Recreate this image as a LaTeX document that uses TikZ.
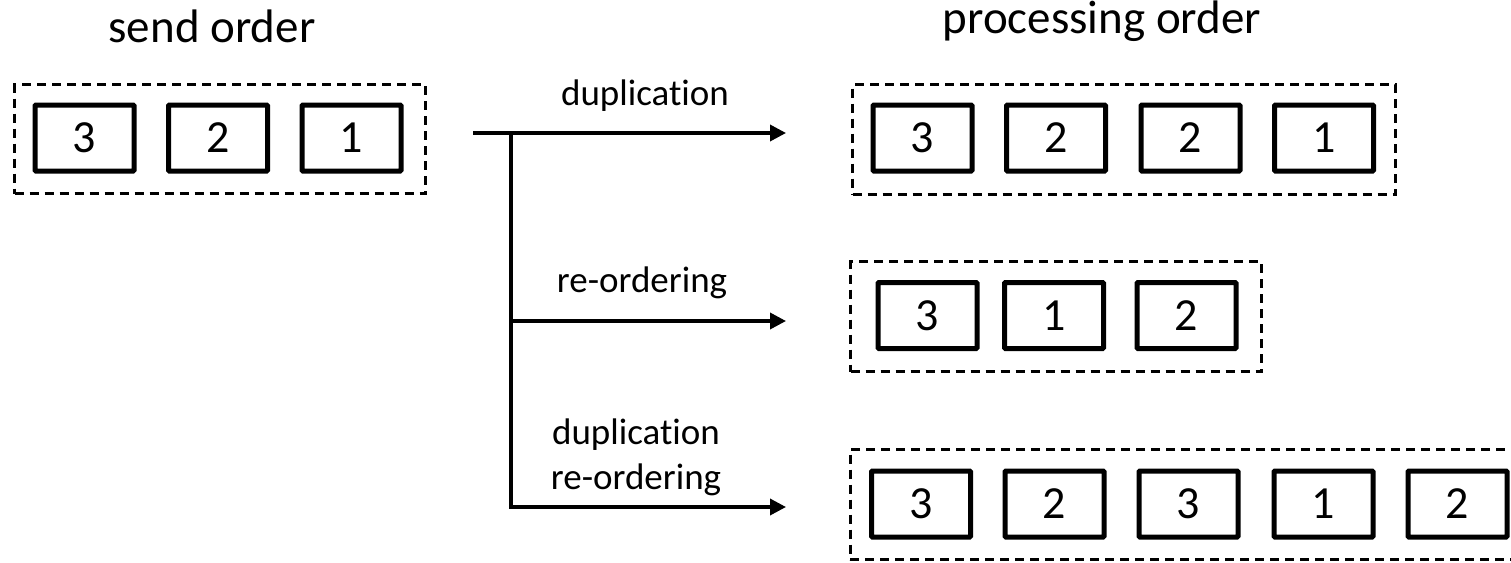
\documentclass[tikz,border=0pt]{standalone}
\usepackage{fontspec}
\setmainfont[Ligatures=NoCommon]{Carlito}
\usetikzlibrary{arrows.meta}
\tikzset{
  pkt/.style={draw, line width=5pt, rounded corners=1pt, minimum width=99pt, minimum height=66pt, inner sep=0pt, font=\fontsize{46}{52}\selectfont},
  grp/.style={draw, line width=3pt, dash pattern=on 9pt off 6pt, inner sep=0pt},
  title/.style={anchor=base, font=\fontsize{47}{56}\selectfont},
  lbl/.style={anchor=base, font=\fontsize{37}{45}\selectfont},
  lbltwo/.style={font=\fontsize{37}{45}\selectfont, align=center},
  flow/.style={line width=3.5pt},
  flowarr/.style={line width=3.5pt, -{Triangle[length=16pt,width=16pt]}}
}

\begin{document}
\begin{tikzpicture}[x=1pt, y=-1pt]
		%%%%% START %%%%%
		\useasboundingbox (0,0) rectangle (1511,562);
		
		% titles
		\node[title] (sendtitle) at (212,42) {send order};
		\node[title] (proctitle) at (1102,33) {processing order};
		
		% send order
		\node[grp, minimum width=411pt, minimum height=109pt] (sendgrp) at (220,139) {};
		\node[pkt] (s3) at (84.5,138) {3};
		\node[pkt] (s2) at (218,138) {2};
		\node[pkt] (s1) at (351.5,138) {1};
		
		% duplication
		\node[grp, minimum width=543pt, minimum height=110pt] (dupgrp) at (1124,139.5) {};
		\node[pkt] (d3) at (922.5,138) {3};
		\node[pkt] (d2a) at (1056,138) {2};
		\node[pkt] (d2b) at (1190.5,138) {2};
		\node[pkt] (d1) at (1324,138) {1};
		
		% re-ordering
		\node[grp, minimum width=411pt, minimum height=110pt] (reogrp) at (1056,316.5) {};
		\node[pkt] (r3) at (927.5,315.5) {3};
		\node[pkt] (r1) at (1054,315.5) {1};
		\node[pkt] (r2) at (1186.5,315.5) {2};
		
		% duplication + re-ordering
		\node[grp, minimum width=670pt, minimum height=110pt] (bothgrp) at (1185,504.5) {};
		\node[pkt] (b3a) at (921,504) {3};
		\node[pkt] (b2a) at (1054.5,504) {2};
		\node[pkt] (b3b) at (1188.5,504) {3};
		\node[pkt] (b1) at (1323.5,504) {1};
		\node[pkt] (b2b) at (1457.5,504) {2};
		
		% arrows
		\coordinate (stub) at (473,133);
		\coordinate (fork) at (511,133);
		\coordinate (endA) at (786,133);
		\coordinate (endB) at (786,321);
		\coordinate (endC) at (786,507);
		\draw[flow] (stub) -- (fork);
		\draw[flowarr] (fork) -- (endA);
		\draw[flowarr] (fork) |- (endB);
		\draw[flowarr] (fork) |- (endC);
		
		\node[lbl] (duplbl) at (645,105) {duplication};
		\node[lbl] (reolbl) at (642,292) {re-ordering};
		\node[lbltwo] (bothlbl) at (636,457) {duplication\\re-ordering};
		
		%%%%% END %%%%%
	\end{tikzpicture}
\end{document}
